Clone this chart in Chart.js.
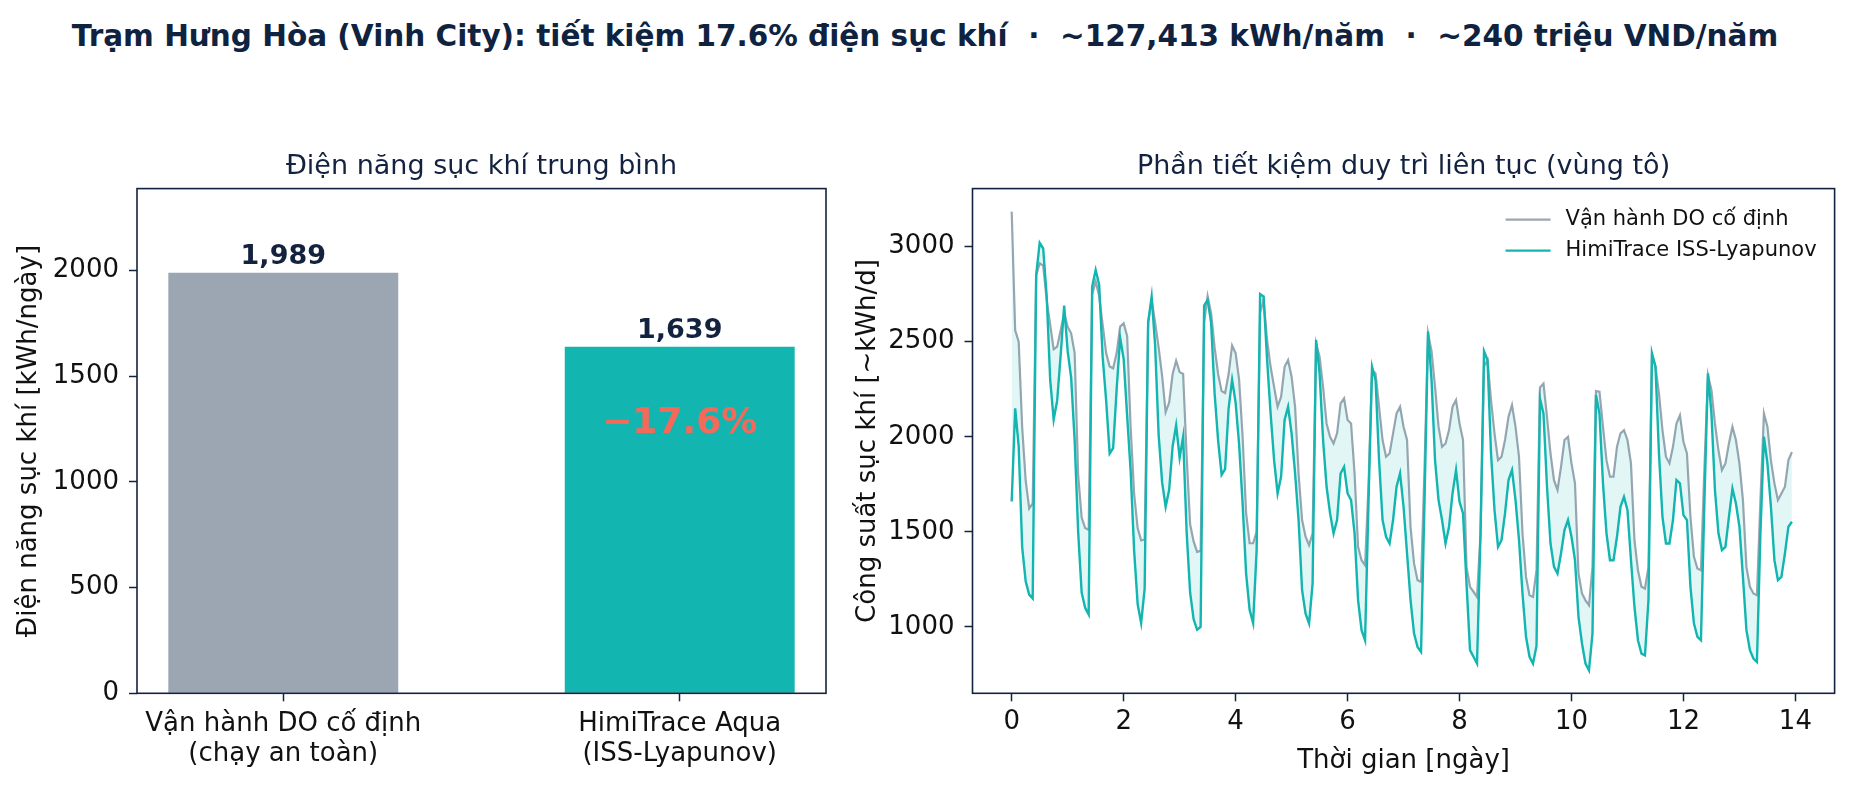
<!DOCTYPE html>
<html lang="vi">
<head>
  <meta charset="UTF-8" />
  <title>Trạm Hưng Hòa – tiết kiệm điện sục khí</title>
  <script src="https://cdn.jsdelivr.net/npm/chart.js"></script>
  <style>
    body {
      margin: 0;
      background: #fff;
      font-family: 'DejaVu Sans', sans-serif;
    }
    .page {
      position: relative;
      width: 1850px;
      height: 791px;
      overflow: hidden;
    }
    .suptitle {
      position: absolute;
      left: 0;
      top: 21px;
      width: 1850px;
      text-align: center;
      font-size: 29.5px;
      line-height: 30px;
      font-weight: bold;
      color: #0f2340;
      white-space: pre;
    }
    .panel { position: absolute; top: 0; }
    #barPanel { left: 0; }
    #linePanel { left: 840px; }
  </style>
</head>
<body>
  <div class="page">
    <div class="suptitle">Trạm Hưng Hòa (Vinh City): tiết kiệm 17.6% điện sục khí  ·  ~127,413 kWh/năm  ·  ~240 triệu VND/năm</div>
    <canvas class="panel" id="barPanel" width="840" height="791"></canvas>
    <canvas class="panel" id="linePanel" width="1010" height="791"></canvas>
  </div>
  <script>
    // ---- left panel: average daily aeration energy
    const barLabels = [['Vận hành DO cố định', '(chạy an toàn)'], ['HimiTrace Aqua', '(ISS-Lyapunov)']];
    const barValues = [1989, 1639];
    const barTicks = [0, 500, 1000, 1500, 2000];

    // ---- right panel: aeration power, one sample every 1.5 h over 14 days
    const stepDays = 1 / 16;
    const doFixedKWh = [
      3184, 2560, 2500, 2050, 1770, 1623, 1650, 2850, 2912, 2900, 2720, 2590, 2460, 2474, 2560, 2650,
      2579, 2544, 2440, 1800, 1575, 1520, 1510, 2750, 2816, 2740, 2590, 2440, 2370, 2360, 2440, 2580,
      2597, 2530, 2050, 1700, 1520, 1455, 1460, 2600, 2720, 2600, 2470, 2320, 2130, 2180, 2330, 2400,
      2340, 2330, 1900, 1540, 1450, 1395, 1400, 2600, 2740, 2650, 2470, 2330, 2240, 2230, 2330, 2480,
      2440, 2300, 2000, 1600, 1440, 1440, 1500, 2650, 2720, 2509, 2368, 2263, 2158, 2210, 2368, 2404,
      2316, 2158, 1807, 1562, 1474, 1430, 1492, 2491, 2421, 2263, 2070, 2000, 1965, 2018, 2176, 2202,
      2088, 2070, 1807, 1421, 1351, 1325, 1755, 2351, 2333, 2158, 1983, 1895, 1912, 2018, 2123, 2158,
      2053, 1983, 1526, 1334, 1246, 1237, 1842, 2544, 2450, 2263, 2053, 1947, 1965, 2035, 2158, 2193,
      2070, 1983, 1316, 1211, 1185, 1158, 1492, 2368, 2404, 2193, 2018, 1877, 1895, 1983, 2105, 2167,
      2053, 1895, 1492, 1263, 1167, 1158, 1300, 2260, 2280, 2105, 1912, 1772, 1720, 1842, 1983, 2000,
      1860, 1755, 1281, 1176, 1140, 1114, 1316, 2240, 2237, 2053, 1877, 1790, 1790, 1947, 2018, 2035,
      1983, 1860, 1456, 1298, 1211, 1202, 1316, 2430, 2369, 2228, 2035, 1895, 1860, 1947, 2070, 2114,
      1974, 1912, 1579, 1369, 1307, 1298, 1842, 2325, 2246, 2070, 1930, 1825, 1860, 1965, 2053, 1983,
      1860, 1667, 1316, 1211, 1176, 1167, 1667, 2123, 2053, 1877, 1755, 1667, 1702, 1737, 1877, 1920
    ];
    const himiKWh = [
      1660, 2150, 1950, 1420, 1240, 1170, 1150, 2850, 3020, 2990, 2740, 2300, 2090, 2190, 2430, 2690,
      2450, 2310, 1980, 1500, 1180, 1100, 1065, 2790, 2877, 2800, 2420, 2190, 1912, 1940, 2250, 2520,
      2410, 2110, 1820, 1400, 1120, 1020, 1200, 2600, 2737, 2480, 2010, 1760, 1632, 1720, 1950, 2060,
      1890, 2000, 1500, 1180, 1040,  985, 1000, 2690, 2720, 2600, 2228, 1980, 1800, 1830, 2150, 2300,
      2180, 1960, 1650, 1280, 1090, 1020, 1400, 2750, 2737, 2404, 2123, 1877, 1702, 1790, 2088, 2158,
      2018, 1807, 1562, 1193, 1070, 1018, 1228, 2509, 2333, 1983, 1737, 1597, 1492, 1562, 1807, 1842,
      1702, 1667, 1492, 1141,  983,  930, 1667, 2368, 2298, 1877, 1562, 1474, 1439, 1562, 1737, 1807,
      1632, 1386, 1141,  965,  895,  869, 1667, 2553, 2300, 1877, 1667, 1562, 1439, 1527, 1702, 1825,
      1658, 1597, 1228,  878,  843,  807, 1492, 2450, 2404, 1912, 1614, 1421, 1456, 1597, 1772, 1825,
      1667, 1456, 1176,  948,  843,  807,  900, 2200, 2120, 1737, 1439, 1316, 1281, 1386, 1509, 1562,
      1474, 1351, 1053,  913,  807,  772,  965, 2220, 2120, 1755, 1492, 1351, 1351, 1474, 1632, 1684,
      1614, 1351, 1105,  930,  860,  851, 1141, 2440, 2369, 1912, 1579, 1439, 1439, 1562, 1772, 1755,
      1588, 1562, 1211, 1018,  948,  930, 1667, 2333, 2123, 1720, 1492, 1404, 1421, 1579, 1728, 1649,
      1527, 1263,  983,  878,  834,  816, 1492, 2000, 1860, 1632, 1351, 1246, 1263, 1386, 1527, 1553
    ];
    const seriesNames = ['Vận hành DO cố định', 'HimiTrace ISS-Lyapunov'];
    const dayTicks = [0, 2, 4, 6, 8, 10, 12, 14];
    const powerTicks = [1000, 1500, 2000, 2500, 3000];

    const NAVY = '#13233f';
    const GRAY = '#9ba6b2';
    const TEAL = '#12b5b0';
    const CORAL = '#f46a5a';
    const INK = '#111111';
    const FONT = 'DejaVu Sans';

    Chart.defaults.font.family = FONT;
    Chart.defaults.color = INK;

    // matplotlib-style box around the plot area
    const frame = {
      id: 'frame',
      afterDraw(chart) {
        const { ctx, chartArea: a } = chart;
        ctx.save();
        ctx.strokeStyle = NAVY;
        ctx.lineWidth = 1.6;
        ctx.strokeRect(a.left, a.top, a.right - a.left, a.bottom - a.top);
        ctx.restore();
      }
    };

    const tickGrid = {
      offset: false,
      drawOnChartArea: false,
      drawTicks: true,
      tickLength: 8,
      tickColor: NAVY,
      tickWidth: 1.5,
      color: NAVY
    };

    // value labels above bars + saving badge
    const barText = {
      id: 'barText',
      afterDatasetsDraw(chart) {
        const { ctx } = chart;
        const bars = chart.getDatasetMeta(0).data;
        ctx.save();
        ctx.textAlign = 'center';
        ctx.textBaseline = 'alphabetic';
        ctx.font = `bold 27px "${FONT}"`;
        ctx.fillStyle = NAVY;
        bars.forEach((bar, i) => {
          ctx.fillText(barValues[i].toLocaleString('en-US'), bar.x, bar.y - 9);
        });
        const pct = (barValues[0] - barValues[1]) / barValues[0] * 100;
        ctx.font = `bold 36px "${FONT}"`;
        ctx.fillStyle = CORAL;
        ctx.fillText('−' + pct.toFixed(1) + '%', bars[1].x, chart.scales.y.getPixelForValue(barValues[1] * 0.75));
        ctx.restore();
      }
    };

    new Chart(document.getElementById('barPanel'), {
      type: 'bar',
      data: {
        datasets: [{
          data: barValues.map((v, i) => ({ x: i, y: v })),
          backgroundColor: [GRAY, TEAL],
          borderWidth: 0,
          barPercentage: 0.58,
          categoryPercentage: 1
        }]
      },
      options: {
        responsive: false,
        animation: false,
        layout: { padding: { left: 0, right: 14, top: 0, bottom: 0 } },
        plugins: {
          legend: { display: false },
          tooltip: { enabled: false },
          title: {
            display: true,
            fullSize: false,
            text: 'Điện năng sục khí trung bình',
            color: NAVY,
            font: { size: 27, weight: 'normal' },
            padding: { top: 151, bottom: 5.2 }
          }
        },
        scales: {
          x: {
            type: 'linear',
            offset: false,
            min: -0.369,
            max: 1.369,
            afterBuildTicks: s => { s.ticks = barLabels.map((_, i) => ({ value: i })); },
            afterFit: s => { s.height = 97.7; },
            ticks: {
              callback: v => barLabels[v],
              font: { size: 26, lineHeight: 1.15 },
              color: INK,
              padding: 8,
              maxRotation: 0,
              autoSkip: false
            },
            grid: tickGrid,
            border: { display: false }
          },
          y: {
            min: 0,
            max: barValues[0] * 1.2,
            afterBuildTicks: s => { s.ticks = barTicks.map(v => ({ value: v })); },
            afterFit: s => { s.width = 137; },
            ticks: { font: { size: 26 }, color: INK, padding: 10, callback: v => String(v) },
            title: {
              display: true,
              text: 'Điện năng sục khí [kWh/ngày]',
              font: { size: 26 },
              color: INK,
              padding: { top: 14, bottom: 0 }
            },
            grid: tickGrid,
            border: { display: false }
          }
        }
      },
      plugins: [barText, frame]
    });

    // legend drawn inside the plot, upper right, no frame
    const insideLegend = {
      id: 'insideLegend',
      afterDraw(chart) {
        const { ctx, chartArea: a } = chart;
        ctx.save();
        ctx.font = `21px "${FONT}"`;
        const items = chart.data.datasets.map(d => ({ text: d.label, color: d.borderColor }));
        const w = Math.max(...items.map(it => ctx.measureText(it.text).width));
        const tx = a.right - 18 - w;
        items.forEach((it, i) => {
          const y = a.top + 31 + i * 31;
          ctx.strokeStyle = it.color;
          ctx.lineWidth = 2.4;
          ctx.beginPath();
          ctx.moveTo(tx - 60, y);
          ctx.lineTo(tx - 15, y);
          ctx.stroke();
          ctx.fillStyle = INK;
          ctx.textAlign = 'left';
          ctx.textBaseline = 'middle';
          ctx.fillText(it.text, tx, y);
        });
        ctx.restore();
      }
    };

    new Chart(document.getElementById('linePanel'), {
      type: 'line',
      data: {
        datasets: [{
          label: seriesNames[0],
          data: doFixedKWh.map((v, i) => ({ x: i * stepDays, y: v })),
          borderColor: GRAY,
          borderWidth: 2.2,
          pointRadius: 0,
          fill: false,
          order: 2
        }, {
          label: seriesNames[1],
          data: himiKWh.map((v, i) => ({ x: i * stepDays, y: v })),
          borderColor: TEAL,
          borderWidth: 2.4,
          pointRadius: 0,
          fill: '-1',
          backgroundColor: 'rgba(18, 181, 176, 0.12)',
          order: 1
        }]
      },
      options: {
        responsive: false,
        animation: false,
        layout: { padding: { left: 0, right: 15.4, top: 0, bottom: 0 } },
        plugins: {
          legend: { display: false },
          tooltip: { enabled: false },
          title: {
            display: true,
            fullSize: false,
            text: 'Phần tiết kiệm duy trì liên tục (vùng tô)',
            color: NAVY,
            font: { size: 27, weight: 'normal' },
            padding: { top: 151, bottom: 5.2 }
          }
        },
        scales: {
          x: {
            type: 'linear',
            min: -0.7,
            max: 14.7,
            afterBuildTicks: s => { s.ticks = dayTicks.map(v => ({ value: v })); },
            afterFit: s => { s.height = 97.7; },
            ticks: { font: { size: 26 }, color: INK, padding: 5, maxRotation: 0, autoSkip: false },
            title: {
              display: true,
              text: 'Thời gian [ngày]',
              font: { size: 26 },
              color: INK,
              padding: { top: 0, bottom: 14.4 }
            },
            grid: tickGrid,
            border: { display: false }
          },
          y: {
            min: 651,
            max: 3305,
            afterBuildTicks: s => { s.ticks = powerTicks.map(v => ({ value: v })); },
            afterFit: s => { s.width = 132.5; },
            ticks: { font: { size: 26 }, color: INK, padding: 10, callback: v => String(v) },
            title: {
              display: true,
              text: 'Công suất sục khí [~kWh/d]',
              font: { size: 26 },
              color: INK,
              padding: { top: 12.4, bottom: 0 }
            },
            grid: tickGrid,
            border: { display: false }
          }
        }
      },
      plugins: [insideLegend, frame]
    });
  </script>
</body>
</html>
